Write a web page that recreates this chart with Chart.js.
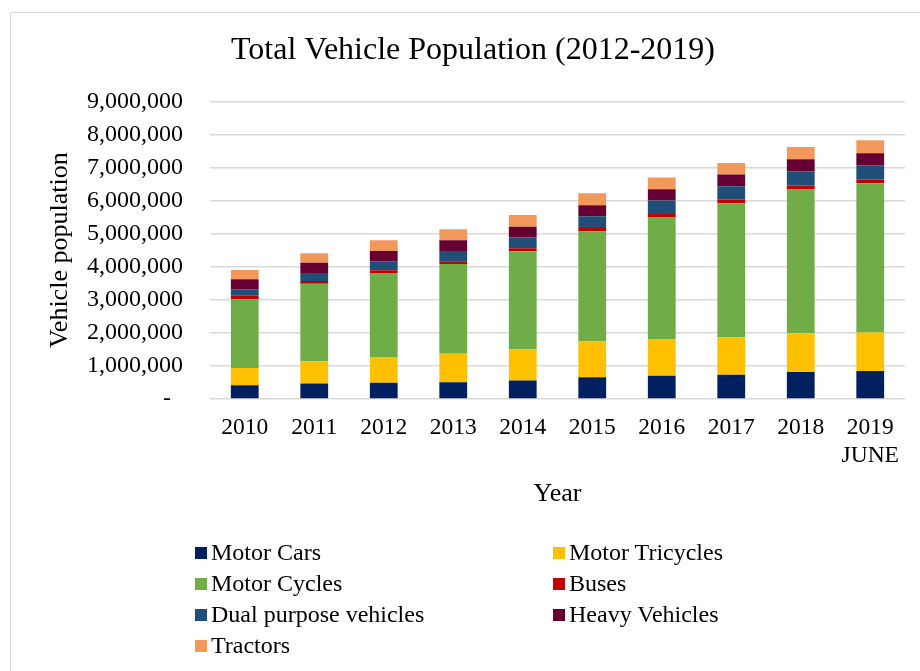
<!DOCTYPE html>
<html>
<head>
<meta charset="utf-8">
<script src="https://cdn.jsdelivr.net/npm/chart.js@4/dist/chart.umd.min.js"></script>
<style>
    html, body { margin: 0; padding: 0; background: #fff; overflow: hidden; }
    #wrap { position: relative; width: 920px; height: 671px; }
    #frame {
        position: absolute; left: 10px; top: 12px; width: 960px; height: 720px;
        border: 1.5px solid #d9d9d9; box-sizing: border-box;
    }
    #chart { position: absolute; left: 0; top: 0; }
    #legend {
        position: absolute; left: 195px; top: 537px; width: 600px;
        display: grid; grid-template-columns: 358px 242px; grid-auto-rows: 31px;
        font-family: "Liberation Serif", "Times New Roman", serif; font-size: 24px; color: #000;
    }
    #legend .item { display: flex; align-items: center; white-space: nowrap; }
    #legend .box { width: 12px; height: 12px; margin-right: 4px; flex: none; }
</style>
</head>
<body>
<div id="wrap">
    <div id="frame"></div>
    <canvas id="chart" width="920" height="671"></canvas>
    <div id="legend"></div>
</div>
<script>
// 车辆保有量数据 (每年分车型)
const years = ['2010', '2011', '2012', '2013', '2014', '2015', '2016', '2017', '2018', ['2019', 'JUNE']];
const seriesNames = ['Motor Cars', 'Motor Tricycles', 'Motor Cycles', 'Buses', 'Dual purpose vehicles', 'Heavy Vehicles', 'Tractors'];
const seriesColors = ['#002060', '#FFC000', '#70AD47', '#C00000', '#1F4E79', '#660033', '#F2985A'];

const motorCars = [415000, 467000, 490000, 509000, 561000, 655000, 706000, 736000, 818000, 848000];
const motorTricycles = [525000, 675000, 777000, 861000, 939000, 1081000, 1112000, 1131000, 1170000, 1161000];
const motorCycles = [2080000, 2343000, 2545000, 2715000, 2970000, 3334000, 3685000, 4051000, 4364000, 4515000];
const buses = [100000, 82000, 82000, 82000, 91000, 100000, 91000, 112000, 103000, 112000];
const dualPurpose = [200000, 242000, 273000, 312000, 324000, 354000, 406000, 403000, 433000, 434000];
const heavyVehicles = [300000, 312000, 312000, 324000, 321000, 334000, 342000, 355000, 364000, 363000];
const tractors = [280000, 285000, 324000, 333000, 355000, 363000, 355000, 351000, 372000, 394000];

const yTicksMax = 9000000;
const yTicksStep = 1000000;

const allSeries = [motorCars, motorTricycles, motorCycles, buses, dualPurpose, heavyVehicles, tractors];

const serif = '"Liberation Serif", "Times New Roman", serif';

// 两列图例, 用 HTML 画
const htmlLegend = {
    id: 'htmlLegend',
    afterUpdate(chart) {
        const box = document.getElementById('legend');
        box.innerHTML = '';
        const items = chart.options.plugins.legend.labels.generateLabels(chart);
        items.forEach(item => {
            const el = document.createElement('div');
            el.className = 'item';
            const sw = document.createElement('span');
            sw.className = 'box';
            sw.style.background = item.fillStyle;
            el.appendChild(sw);
            el.appendChild(document.createTextNode(item.text));
            box.appendChild(el);
        });
    }
};

const ctx = document.getElementById('chart').getContext('2d');
new Chart(ctx, {
    type: 'bar',
    data: {
        labels: years,
        datasets: seriesNames.map((name, i) => ({
            label: name,
            data: allSeries[i],
            backgroundColor: seriesColors[i],
            borderWidth: 0,
            categoryPercentage: 1,
            barPercentage: 0.4
        }))
    },
    options: {
        responsive: false,
        animation: false,
        layout: {
            padding: { top: 12, left: 41, right: 15, bottom: 161 }
        },
        plugins: {
            legend: { display: false },
            tooltip: { enabled: false },
            title: {
                display: true,
                text: 'Total Vehicle Population (2012-2019)',
                color: '#000',
                font: { family: serif, size: 32, weight: 'normal' },
                padding: { top: 19, bottom: 32 },
                fullSize: true
            }
        },
        scales: {
            x: {
                stacked: true,
                grid: { display: false, drawTicks: false },
                border: { display: false },
                ticks: {
                    color: '#000',
                    font: { family: serif, size: 23.5 },
                    padding: 15,
                    maxRotation: 0,
                    autoSkip: false
                },
                title: {
                    display: true,
                    text: 'Year',
                    color: '#000',
                    font: { family: serif, size: 26 },
                    padding: 0
                },
                afterFit: (scale) => { scale.height = 111; }
            },
            y: {
                stacked: true,
                min: 0,
                max: yTicksMax,
                grid: { color: '#d9d9d9', lineWidth: 1.6, drawTicks: false },
                border: { display: false },
                ticks: {
                    stepSize: yTicksStep,
                    color: '#000',
                    font: { family: serif, size: 24 },
                    padding: 27,
                    callback: (v) => v === 0 ? '-  ' : v.toLocaleString('en-US')
                },
                title: {
                    display: true,
                    text: 'Vehicle population',
                    color: '#000',
                    font: { family: serif, size: 26 },
                    padding: { top: 4, bottom: 0 }
                },
                afterFit: (scale) => { scale.width = 169; }
            }
        }
    },
    plugins: [htmlLegend]
});
</script>
</body>
</html>
